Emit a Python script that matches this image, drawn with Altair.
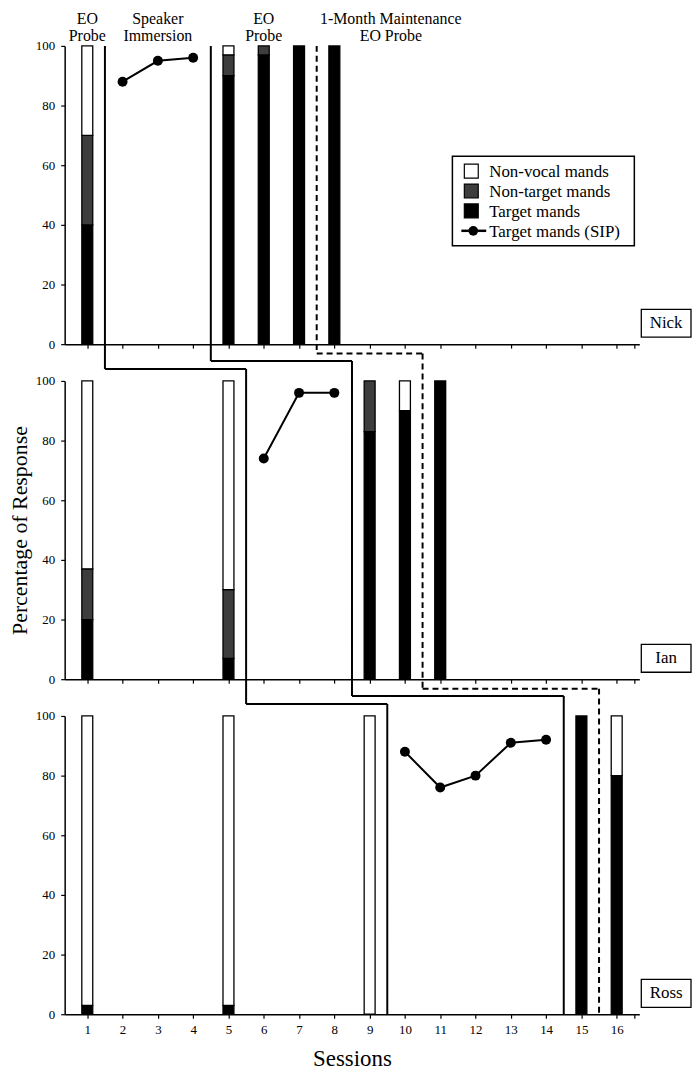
import altair as alt
import pandas as pd

FONT = "Liberation Serif"

# ---------------- data ----------------
CATS = ["Non-vocal mands", "Non-target mands", "Target mands", "Target mands (SIP)"]
CAT_COLORS = ["#ffffff", "#3d3d3d", "#000000", "#000000"]

SESSION_TICKS = [1, 2, 3, 4, 5, 6, 7, 8, 9, 10, 11, 12, 13, 14, 15, 16]

NICK_BAR_SESSIONS = [1, 5, 6, 7, 8]
NICK_TARGET = [40, 90, 97, 100, 100]
NICK_NONTARGET = [30, 7, 3, 0, 0]
NICK_NONVOCAL = [30, 3, 0, 0, 0]
NICK_SIP_SESSIONS = [2, 3, 4]
NICK_SIP = [88, 95, 96]

IAN_BAR_SESSIONS = [1, 5, 9, 10, 11]
IAN_TARGET = [20, 7, 83, 90, 100]
IAN_NONTARGET = [17, 23, 17, 0, 0]
IAN_NONVOCAL = [63, 70, 0, 10, 0]
IAN_SIP_SESSIONS = [6, 7, 8]
IAN_SIP = [74, 96, 96]

ROSS_BAR_SESSIONS = [1, 5, 9, 15, 16]
ROSS_TARGET = [3, 3, 0, 100, 80]
ROSS_NONTARGET = [0, 0, 0, 0, 0]
ROSS_NONVOCAL = [97, 97, 100, 0, 20]
ROSS_SIP_SESSIONS = [10, 11, 12, 13, 14]
ROSS_SIP = [88, 76, 80, 91, 92]

# phase-change lines: session boundary in each panel (Nick, Ian, Ross)
LINE_A = [1.5, 5.5, 9.5]
LINE_B = [4.5, 8.5, 14.5]
LINE_C = [7.5, 10.5, 15.5]

PHASE_LABELS = ["EO\nProbe", "Speaker\nImmersion", "EO\nProbe", "1-Month Maintenance\nEO Probe"]
PHASE_LABEL_POS = [1, 3, 6, 9.6]

# ---------------- layout ----------------
W = 578
H = 300
GAP = 37
STEP_A, STEP_B, STEP_C = 25, 17, 9.5  # px below the axis where the lines step across

XSCALE = alt.Scale(domain=[0.5, 16.5], nice=False, zero=False)
YSCALE = alt.Scale(domain=[0, 100], nice=False)

# legend box geometry (px, relative to the top panel's plot area)
LEG_X0, LEG_X1, LEG_Y0, LEG_Y1 = 390, 573, 111, 201
LEG_ROW0, LEG_ROW_STEP = 126, 20
LEG_SYM_X = 409
LEG_TEXT_X = 427


def px_to_val(px):
    return 100.0 * (1 - px / H)


def legend_layers():
    one = pd.DataFrame({"k": [0]})
    layers = [
        alt.Chart(one).mark_rect(fill="white", stroke="black", strokeWidth=1.5).encode(
            x=alt.value(LEG_X0), x2=alt.value(LEG_X1), y=alt.value(LEG_Y0), y2=alt.value(LEG_Y1)
        )
    ]
    for i in range(3):
        cy = LEG_ROW0 + i * LEG_ROW_STEP
        layers.append(
            alt.Chart(one).mark_rect(fill=CAT_COLORS[i], stroke="black", strokeWidth=1.2).encode(
                x=alt.value(LEG_SYM_X - 7), x2=alt.value(LEG_SYM_X + 7), y=alt.value(cy - 7), y2=alt.value(cy + 7)
            )
        )
    cy = LEG_ROW0 + 3 * LEG_ROW_STEP
    layers.append(
        alt.Chart(one).mark_rule(color="black", strokeWidth=2.5).encode(
            x=alt.value(LEG_SYM_X - 10), x2=alt.value(LEG_SYM_X + 15), y=alt.value(cy)
        )
    )
    layers.append(
        alt.Chart(one).mark_circle(color="black", size=95, opacity=1).encode(
            x=alt.value(LEG_SYM_X + 2), y=alt.value(cy)
        )
    )
    txt = pd.DataFrame({"t": ["\n".join(CATS)]})
    layers.append(
        alt.Chart(txt).mark_text(
            font=FONT, fontSize=17, lineBreak="\n", lineHeight=LEG_ROW_STEP, align="left",
            baseline="middle", color="black"
        ).encode(x=alt.value(LEG_TEXT_X), y=alt.value(LEG_ROW0 + 1), text="t:N")
    )
    return layers


def panel(idx, name, bar_sessions, target, nontarget, nonvocal, sip_sessions, sip):
    rows = []
    for s, t, nt, nv in zip(bar_sessions, target, nontarget, nonvocal):
        for cat, v, o in [("Target mands", t, 0), ("Non-target mands", nt, 1), ("Non-vocal mands", nv, 2)]:
            if v > 0:
                rows.append(dict(session=s, cat=cat, value=v, ord=o))
    bars_df = pd.DataFrame(rows)

    bottom = idx == 2
    x_axis = alt.Axis(
        values=SESSION_TICKS + [16.5],
        labels=bottom,
        labelExpr="datum.value == 16.5 ? '' : datum.label",
        labelFontSize=13,
        labelPadding=5,
        tickSize=4,
        title="Sessions" if bottom else None,
        titleFontSize=23,
        titlePadding=12,
    )
    y_axis = alt.Axis(
        values=[0, 20, 40, 60, 80, 100],
        tickSize=4,
        labelPadding=6,
        labelFontSize=13,
        title="Percentage of Response" if idx == 1 else None,
        titleFontSize=22,
        titlePadding=4,
    )

    def X(field):
        return alt.X(field, scale=XSCALE, axis=x_axis)

    def Y(field, **kw):
        return alt.Y(field, scale=YSCALE, axis=y_axis, **kw)

    bars = alt.Chart(bars_df).mark_bar(size=11, stroke="black", strokeWidth=1.3).encode(
        x=X("session:Q"),
        y=Y("value:Q", stack="zero"),
        color=alt.Color("cat:N", scale=alt.Scale(domain=CATS, range=CAT_COLORS), legend=None),
        order=alt.Order("ord:Q", sort="ascending"),
    )

    sip_df = pd.DataFrame({"session": sip_sessions, "value": sip})
    line = alt.Chart(sip_df).mark_line(color="black", strokeWidth=2).encode(x=X("session:Q"), y=Y("value:Q"))
    pts = alt.Chart(sip_df).mark_circle(size=100, color="black", opacity=1).encode(
        x=X("session:Q"), y=Y("value:Q")
    )

    # phase-change lines
    seg = []
    for xs, step, style in [(LINE_A, STEP_A, "solid"), (LINE_B, STEP_B, "solid"), (LINE_C, STEP_C, "dashed")]:
        top_px = 0 if idx == 0 else step - GAP
        bot_px = H + step if idx < 2 else H
        seg.append(dict(session=xs[idx], x2=xs[idx], value=px_to_val(top_px), y2=px_to_val(bot_px), style=style))
        if idx < 2:
            seg.append(dict(session=xs[idx], x2=xs[idx + 1], value=px_to_val(H + step),
                            y2=px_to_val(H + step), style=style))
    seg_df = pd.DataFrame(seg)
    phase = alt.Chart(seg_df).mark_rule(color="black", strokeWidth=2).encode(
        x=X("session:Q"),
        x2="x2:Q",
        y=Y("value:Q"),
        y2="y2:Q",
        strokeDash=alt.StrokeDash(
            "style:N",
            scale=alt.Scale(domain=["solid", "dashed"], range=[[1, 0], [6, 4]]),
            legend=None,
        ),
    )

    name_df = pd.DataFrame({"name": [name]})
    box = alt.Chart(name_df).mark_rect(fill="white", stroke="black", strokeWidth=1.3).encode(
        x=alt.value(W + 2), x2=alt.value(W + 52), y=alt.value(H - 35), y2=alt.value(H - 7)
    )
    box_text = alt.Chart(name_df).mark_text(font=FONT, fontSize=17, color="black").encode(
        x=alt.value(W + 27), y=alt.value(H - 21), text="name:N"
    )

    layers = [bars, line, pts, phase, box, box_text]

    if idx == 0:
        lab_df = pd.DataFrame({"label": PHASE_LABELS, "session": PHASE_LABEL_POS})
        labels = alt.Chart(lab_df).mark_text(
            font=FONT, fontSize=16, lineBreak="\n", lineHeight=17.5, baseline="top", align="center", color="black"
        ).encode(
            x=X("session:Q"),
            y=alt.value(-35),
            text="label:N",
        )
        layers.append(labels)
        layers.extend(legend_layers())

    return alt.layer(*layers).properties(width=W, height=H)


nick = panel(0, "Nick", NICK_BAR_SESSIONS, NICK_TARGET, NICK_NONTARGET, NICK_NONVOCAL, NICK_SIP_SESSIONS, NICK_SIP)
ian = panel(1, "Ian", IAN_BAR_SESSIONS, IAN_TARGET, IAN_NONTARGET, IAN_NONVOCAL, IAN_SIP_SESSIONS, IAN_SIP)
ross = panel(2, "Ross", ROSS_BAR_SESSIONS, ROSS_TARGET, ROSS_NONTARGET, ROSS_NONVOCAL, ROSS_SIP_SESSIONS, ROSS_SIP)

chart = (
    alt.vconcat(nick, ian, ross, spacing=GAP, bounds="flush", padding=0)
    .configure(font=FONT)
    .configure_view(stroke=None)
    .configure_axis(
        domainColor="black",
        tickColor="black",
        labelColor="black",
        titleColor="black",
        grid=False,
        titleFontWeight="normal",
        labelFont=FONT,
        titleFont=FONT,
        domainWidth=1.5,
        tickWidth=1.2,
    )
)

chart.save("out.html", embed_options={"renderer": "svg", "actions": False})
